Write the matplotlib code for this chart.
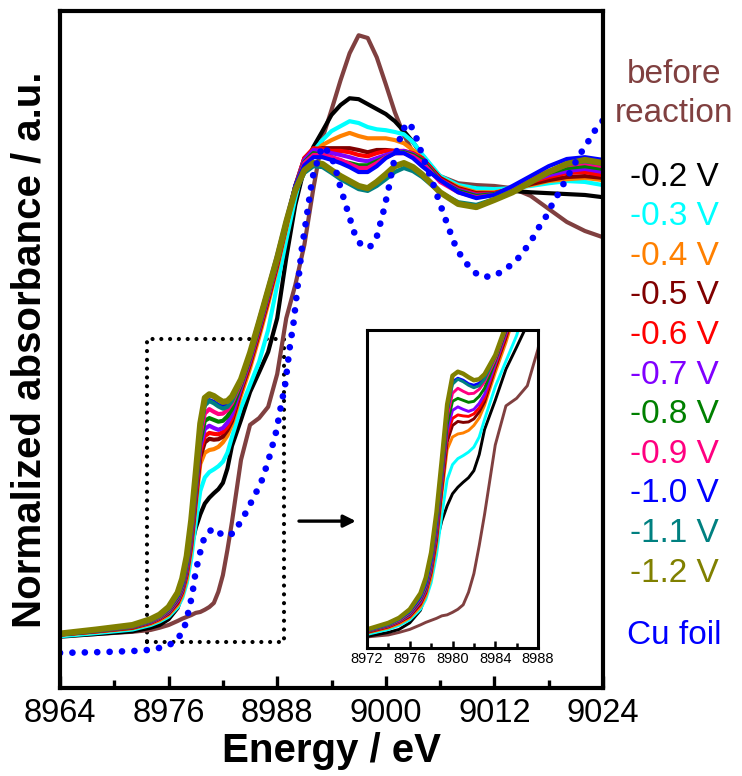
import matplotlib
matplotlib.use("Agg")
import matplotlib.pyplot as plt
from matplotlib.ticker import MultipleLocator
from matplotlib.patches import Rectangle

plt.rcParams['font.family'] = ['Liberation Sans', 'DejaVu Sans']

# ---------------- data ----------------
energy = [8964, 8968, 8972, 8974, 8975, 8976, 8977, 8977.5, 8978, 8978.5,
          8979, 8979.5, 8980, 8980.5, 8981, 8981.5, 8982, 8982.5, 8983, 8984,
          8985, 8986, 8987, 8988, 8989, 8990, 8991, 8992, 8993, 8994,
          8995, 8996, 8997, 8998, 8999, 9000, 9001, 9002, 9003, 9004,
          9006, 9008, 9010, 9012, 9014, 9016, 9018, 9020, 9022, 9024]

before_reaction = [-0.002, 0.002, 0.007, 0.011, 0.016, 0.022, 0.031, 0.036, 0.040, 0.044,
                   0.049, 0.051, 0.056, 0.062, 0.071, 0.096, 0.133, 0.189, 0.251, 0.389,
                   0.467, 0.482, 0.507, 0.580, 0.704, 0.778, 0.867, 0.993, 1.104, 1.167,
                   1.233, 1.293, 1.333, 1.327, 1.284, 1.224, 1.162, 1.111, 1.073, 1.051,
                   1.020, 1.004, 1.000, 0.998, 0.993, 0.976, 0.947, 0.918, 0.898, 0.884]

v_m02 = [-0.004, 0.002, 0.008, 0.016, 0.022, 0.035, 0.060, 0.092, 0.140, 0.195,
         0.238, 0.268, 0.292, 0.305, 0.315, 0.324, 0.338, 0.370, 0.420, 0.478,
         0.540, 0.584, 0.629, 0.704, 0.838, 0.956, 1.038, 1.085, 1.120, 1.156,
         1.178, 1.193, 1.191, 1.180, 1.169, 1.158, 1.142, 1.120, 1.096, 1.067,
         1.018, 0.998, 0.993, 0.989, 0.987, 0.984, 0.982, 0.980, 0.978, 0.973]
v_m03 = [-0.003, 0.004, 0.012, 0.022, 0.030, 0.041, 0.062, 0.082, 0.115, 0.170,
         0.250, 0.320, 0.350, 0.362, 0.368, 0.375, 0.385, 0.405, 0.440, 0.505,
         0.556, 0.607, 0.678, 0.778, 0.878, 0.971, 1.049, 1.075, 1.100, 1.120,
         1.131, 1.142, 1.138, 1.129, 1.124, 1.122, 1.118, 1.113, 1.096, 1.069,
         1.020, 1.000, 0.993, 0.991, 0.993, 0.998, 1.004, 1.009, 1.007, 1.000]
v_m04 = [0.000, 0.007, 0.015, 0.025, 0.033, 0.045, 0.067, 0.088, 0.125, 0.190,
         0.290, 0.380, 0.405, 0.411, 0.413, 0.418, 0.428, 0.443, 0.468, 0.533,
         0.593, 0.662, 0.736, 0.816, 0.904, 0.993, 1.056, 1.071, 1.089, 1.100,
         1.109, 1.116, 1.109, 1.104, 1.104, 1.104, 1.100, 1.093, 1.078, 1.060,
         1.016, 0.996, 0.984, 0.984, 0.991, 1.000, 1.009, 1.013, 1.016, 1.011]
v_m05 = [0.001, 0.008, 0.016, 0.027, 0.036, 0.048, 0.072, 0.095, 0.135, 0.200,
         0.300, 0.395, 0.428, 0.436, 0.434, 0.435, 0.441, 0.455, 0.475, 0.542,
         0.602, 0.671, 0.744, 0.822, 0.909, 0.998, 1.060, 1.078, 1.082, 1.082,
         1.082, 1.082, 1.078, 1.073, 1.078, 1.078, 1.076, 1.073, 1.069, 1.060,
         1.016, 0.993, 0.982, 0.982, 0.991, 1.002, 1.011, 1.018, 1.020, 1.016]
v_m06 = [0.001, 0.008, 0.017, 0.028, 0.037, 0.050, 0.075, 0.098, 0.140, 0.208,
         0.310, 0.408, 0.442, 0.449, 0.447, 0.446, 0.451, 0.463, 0.482, 0.547,
         0.607, 0.676, 0.749, 0.827, 0.911, 0.998, 1.060, 1.082, 1.080, 1.076,
         1.076, 1.073, 1.067, 1.064, 1.071, 1.076, 1.076, 1.076, 1.071, 1.060,
         1.013, 0.991, 0.980, 0.982, 0.993, 1.007, 1.018, 1.027, 1.029, 1.022]
v_m07 = [0.001, 0.009, 0.018, 0.029, 0.038, 0.051, 0.077, 0.100, 0.143, 0.213,
         0.318, 0.418, 0.458, 0.465, 0.460, 0.456, 0.460, 0.472, 0.490, 0.551,
         0.611, 0.680, 0.753, 0.829, 0.913, 0.998, 1.056, 1.078, 1.076, 1.071,
         1.067, 1.062, 1.056, 1.053, 1.060, 1.067, 1.073, 1.076, 1.069, 1.056,
         1.011, 0.989, 0.978, 0.980, 0.993, 1.009, 1.022, 1.031, 1.036, 1.029]
v_m08 = [0.001, 0.009, 0.018, 0.030, 0.039, 0.053, 0.080, 0.104, 0.148, 0.220,
         0.325, 0.430, 0.476, 0.482, 0.478, 0.474, 0.476, 0.486, 0.502, 0.556,
         0.616, 0.684, 0.758, 0.833, 0.916, 0.998, 1.051, 1.071, 1.067, 1.062,
         1.053, 1.049, 1.044, 1.044, 1.053, 1.062, 1.071, 1.073, 1.067, 1.056,
         1.009, 0.987, 0.976, 0.980, 0.993, 1.011, 1.027, 1.038, 1.042, 1.036]
v_m09 = [0.002, 0.010, 0.019, 0.031, 0.040, 0.055, 0.083, 0.108, 0.153, 0.228,
         0.335, 0.445, 0.492, 0.502, 0.496, 0.491, 0.492, 0.500, 0.515, 0.560,
         0.620, 0.689, 0.762, 0.838, 0.918, 0.996, 1.049, 1.067, 1.067, 1.062,
         1.056, 1.047, 1.038, 1.038, 1.049, 1.062, 1.071, 1.071, 1.064, 1.051,
         1.007, 0.984, 0.973, 0.978, 0.993, 1.013, 1.031, 1.044, 1.049, 1.042]
v_m10 = [0.002, 0.010, 0.020, 0.032, 0.042, 0.057, 0.086, 0.112, 0.158, 0.235,
         0.342, 0.455, 0.515, 0.522, 0.518, 0.511, 0.508, 0.512, 0.525, 0.565,
         0.627, 0.700, 0.771, 0.844, 0.922, 0.998, 1.044, 1.062, 1.062, 1.056,
         1.049, 1.040, 1.029, 1.029, 1.042, 1.060, 1.071, 1.071, 1.060, 1.042,
         1.011, 0.984, 0.971, 0.978, 0.998, 1.020, 1.042, 1.058, 1.062, 1.056]
v_m11 = [0.002, 0.010, 0.020, 0.032, 0.042, 0.058, 0.088, 0.115, 0.162, 0.240,
         0.345, 0.458, 0.510, 0.520, 0.515, 0.508, 0.503, 0.507, 0.520, 0.565,
         0.625, 0.693, 0.764, 0.836, 0.916, 0.984, 1.027, 1.042, 1.040, 1.027,
         1.013, 1.002, 0.991, 0.987, 0.998, 1.013, 1.029, 1.038, 1.031, 1.018,
         0.984, 0.962, 0.956, 0.969, 0.987, 1.009, 1.029, 1.047, 1.053, 1.047]
v_m12 = [0.003, 0.012, 0.022, 0.035, 0.045, 0.062, 0.094, 0.125, 0.175, 0.255,
         0.360, 0.470, 0.527, 0.535, 0.531, 0.524, 0.518, 0.520, 0.530, 0.568,
         0.627, 0.696, 0.767, 0.838, 0.918, 0.989, 1.033, 1.049, 1.047, 1.033,
         1.020, 1.009, 0.998, 0.993, 1.007, 1.024, 1.042, 1.049, 1.040, 1.024,
         0.984, 0.958, 0.951, 0.967, 0.984, 1.007, 1.029, 1.047, 1.056, 1.049]

cu_energy = [8964.0, 8969.0, 8973.0, 8974.3, 8975.6, 8976.6, 8977.6, 8978.0, 8978.6, 8979.0,
             8979.6, 8980.0, 8980.9, 8982.1, 8983.2, 8983.9, 8984.6, 8985.2, 8985.8, 8986.4,
             8987.2, 8987.9, 8988.4, 8988.9, 8989.4, 8989.8, 8990.4, 8990.7, 8991.1, 8991.5,
             8991.9, 8992.6, 8993.0, 8993.8, 8994.3, 8995.0, 8995.8, 8996.6, 8997.2, 8998.2,
             8999.0, 8999.7, 9000.3, 9000.8, 9001.8, 9002.6, 9003.2, 9004.1, 9005.1, 9006.0,
             9006.9, 9007.8, 9008.5, 9009.3, 9010.3, 9011.6, 9012.8, 9013.8, 9014.8, 9015.6,
             9016.4, 9017.0, 9017.8, 9018.4, 9019.1, 9019.7, 9020.4, 9021.0, 9021.7, 9022.4,
             9023.1, 9024.0]
cu_foil = [-0.040, -0.038, -0.035, -0.032, -0.026, -0.017, 0.007, 0.035, 0.088, 0.142,
           0.193, 0.220, 0.237, 0.220, 0.226, 0.250, 0.274, 0.298, 0.322, 0.348,
           0.400, 0.453, 0.507, 0.559, 0.641, 0.693, 0.800, 0.856, 0.909, 0.963,
           1.017, 1.063, 1.087, 1.071, 1.047, 0.994, 0.941, 0.889, 0.869, 0.861,
           0.885, 0.938, 0.991, 1.044, 1.122, 1.139, 1.115, 1.063, 1.010, 0.958,
           0.907, 0.859, 0.837, 0.816, 0.798, 0.796, 0.807, 0.822, 0.841, 0.863,
           0.887, 0.909, 0.933, 0.958, 0.982, 1.005, 1.030, 1.052, 1.076, 1.098,
           1.121, 1.144]

labels = ['-0.2 V', '-0.3 V', '-0.4 V', '-0.5 V', '-0.6 V', '-0.7 V',
          '-0.8 V', '-0.9 V', '-1.0 V', '-1.1 V', '-1.2 V']
series = [v_m02, v_m03, v_m04, v_m05, v_m06, v_m07, v_m08, v_m09, v_m10, v_m11, v_m12]
colors = ['#000000', '#00FFFF', '#FF8000', '#800000', '#FF0000', '#8000FF',
          '#008000', '#FF0080', '#0000FF', '#008080', '#808000']
brown = '#804040'

main_ticks = [8964, 8976, 8988, 9000, 9012, 9024]
inset_ticks = [8972, 8976, 8980, 8984, 8988]

# ---------------- figure ----------------
W, H = 742, 776
fig = plt.figure(figsize=(W / 100, H / 100), dpi=100)
ax = fig.add_axes([60 / W, 1 - 688 / H, 543 / W, 677 / H])

ax.plot(energy, before_reaction, color=brown, lw=3.0, solid_joinstyle='round')
for vals, c in zip(series, colors):
    lw = 4.4 if c == '#808000' else 3.0
    ax.plot(energy, vals, color=c, lw=lw, solid_joinstyle='round')
ax.plot(cu_energy, cu_foil, color='#0000FF', lw=4.8,
        linestyle=(0, (0.01, 1.85)), dash_capstyle='round')

ax.set_xlim(8964, 9024)
ax.set_ylim(-0.118, 1.387)
ax.set_xticks(main_ticks)
ax.xaxis.set_minor_locator(MultipleLocator(6))
ax.tick_params(axis='x', which='major', direction='in', length=9, width=2.4,
               labelsize=23.5, pad=7, top=False)
ax.tick_params(axis='x', which='minor', direction='in', length=5.5, width=2.4, top=False)
ax.tick_params(axis='y', which='both', left=False, labelleft=False)
for s in ax.spines.values():
    s.set_linewidth(3.0)
ax.set_xlabel('Energy / eV', fontsize=29, fontweight='bold', labelpad=2)
ax.set_ylabel('Normalized absorbance / a.u.', fontsize=29, fontweight='bold', labelpad=8)

# dotted zoom rectangle
rect = Rectangle((8973.6, -0.016), 15.15, 0.674, fill=False, edgecolor='black',
                 lw=3.0, linestyle=(0, (0.01, 2.1)), capstyle='round')
ax.add_patch(rect)
ax.annotate('', xy=(8997.0, 0.253), xytext=(8990.1, 0.253),
            arrowprops=dict(arrowstyle='-|>', color='black', lw=2.4, mutation_scale=18))

# ---------------- inset ----------------
axi = fig.add_axes([367 / W, 1 - 648 / H, 171 / W, 318 / H])
axi.plot(energy, before_reaction, color=brown, lw=2.1, solid_joinstyle='round')
for vals, c in zip(series, colors):
    lw = 3.2 if c == '#808000' else 2.1
    axi.plot(energy, vals, color=c, lw=lw, solid_joinstyle='round')
axi.set_xlim(8972, 8988)
axi.set_ylim(-0.015, 0.618)
axi.set_xticks(inset_ticks)
axi.xaxis.set_minor_locator(MultipleLocator(2))
axi.tick_params(axis='x', which='major', direction='in', length=5, width=1.8,
                labelsize=10.5, pad=3, top=False)
axi.tick_params(axis='x', which='minor', direction='in', length=3.5, width=1.8, top=False)
axi.tick_params(axis='y', which='both', left=False, labelleft=False)
for s in axi.spines.values():
    s.set_linewidth(2.2)

# ---------------- right-side labels ----------------
xt = 674 / W
fig.text(xt, 1 - 94 / H, 'before\nreaction', color=brown, fontsize=24,
         ha='center', va='center', linespacing=1.3)
for i, (lab, c) in enumerate(zip(labels, colors)):
    y = 177 + 39.6 * i
    fig.text(xt, 1 - y / H, lab, color=c, fontsize=24, ha='center', va='center')
fig.text(xt, 1 - 635 / H, 'Cu foil', color='#0000FF', fontsize=24, ha='center', va='center')

fig.savefig('out.png', dpi=100)
